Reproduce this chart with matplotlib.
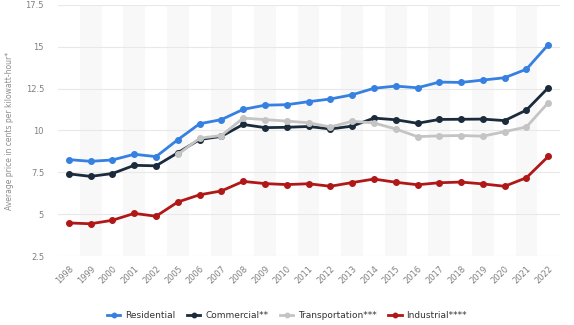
import matplotlib.pyplot as plt
import numpy as np

years = ['1998', '1999', '2000', '2001', '2002', '2005', '2006', '2007', '2008',
         '2009', '2010', '2011', '2012', '2013', '2014', '2015', '2016', '2017',
         '2018', '2019', '2020', '2021', '2022']

residential = [8.26, 8.16, 8.24, 8.58, 8.44, 9.45, 10.40, 10.65, 11.26, 11.51, 11.54,
               11.72, 11.88, 12.13, 12.52, 12.65, 12.55, 12.89, 12.87, 13.01, 13.15,
               13.66, 15.12]
commercial = [7.41, 7.26, 7.43, 7.92, 7.89, 8.67, 9.46, 9.65, 10.36, 10.17, 10.19,
              10.24, 10.09, 10.26, 10.74, 10.64, 10.43, 10.66, 10.67, 10.68, 10.59,
              11.22, 12.55]
transportation = [None, None, None, None, None, 8.57, 9.54, 9.70, 10.74, 10.65, 10.56,
                  10.46, 10.21, 10.55, 10.45, 10.09, 9.63, 9.68, 9.70, 9.66, 9.93,
                  10.21, 11.66]
industrial = [4.48, 4.43, 4.64, 5.05, 4.88, 5.73, 6.16, 6.39, 6.96, 6.83, 6.77,
              6.82, 6.67, 6.89, 7.10, 6.91, 6.76, 6.88, 6.92, 6.81, 6.67,
              7.18, 8.45]

series = [
    ('Residential', residential, '#3580e0'),
    ('Commercial**', commercial, '#1b2b3c'),
    ('Transportation***', transportation, '#c4c4c4'),
    ('Industrial****', industrial, '#b01818'),
]

fig = plt.figure(figsize=(5.74, 3.25), dpi=100)
ax = fig.add_axes([0.101, 0.212, 0.875, 0.773])

x = np.arange(len(years))

# faint alternating column shading
for i in x:
    if i % 2 == 1:
        ax.axvspan(i - 0.5, i + 0.5, color='#f8f8f8', zorder=0, lw=0)

for label, vals, col in series:
    v = np.array([np.nan if a is None else a for a in vals], dtype=float)
    ax.plot(x, v, color=col, lw=2, marker='o', ms=4, label=label, zorder=3)

ax.set_xlim(-0.5, 22.55)
ax.set_ylim(2.5, 17.5)
ax.set_yticks([2.5, 5, 7.5, 10, 12.5, 15, 17.5])
ax.set_yticklabels(['2.5', '5', '7.5', '10', '12.5', '15', '17.5'])
ax.grid(axis='y', color='#e8e8e8', lw=0.8, zorder=1)
ax.set_axisbelow(True)

ax.set_xticks(x)
ax.set_xticklabels(years, rotation=45, ha='right', rotation_mode='anchor')
ax.tick_params(axis='both', length=0, labelsize=6, colors='#808080')
ax.tick_params(axis='y', pad=10)
ax.tick_params(axis='x', pad=6)

for s in ax.spines.values():
    s.set_visible(False)

ax.set_ylabel('Average price in cents per kilowatt-hour*', fontsize=5.5, color='#8c8c8c',
              labelpad=8)

fig.legend(loc='center', bbox_to_anchor=(0.5, 0.03), ncol=4, frameon=False,
           fontsize=6.5, handlelength=1.5, handletextpad=0.5, columnspacing=1.3,
           labelcolor='#333333', markerscale=0.8)

fig.savefig('out.png', dpi=100)
